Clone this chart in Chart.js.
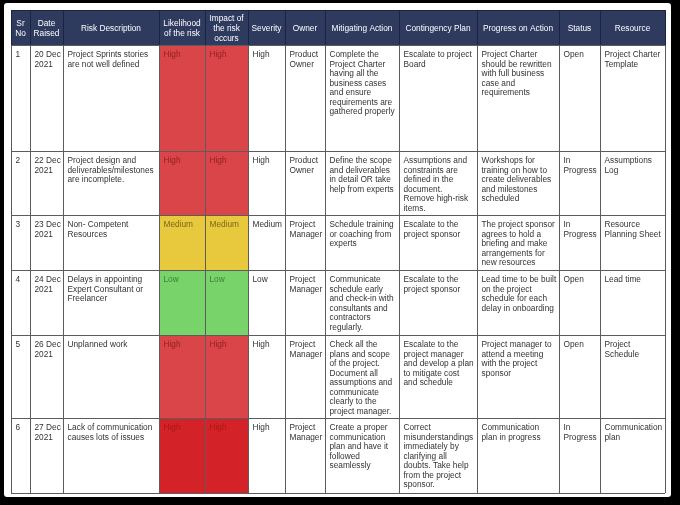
<!DOCTYPE html>
<html>
<head>
<meta charset="utf-8">
<script src="https://cdn.jsdelivr.net/npm/chart.js@4.4.0/dist/chart.umd.min.js"></script>
<style>
  html, body { margin:0; padding:0; background:#000; width:680px; height:505px; overflow:hidden; }
  #page { position:absolute; left:4px; top:3px; width:667px; height:494px; background:#fff; border-radius:3px; }
  #c { position:absolute; left:0; top:0; }
</style>
</head>
<body>
<div id="page"></div>
<canvas id="c" width="680" height="505"></canvas>
<script>
// ---------- DATA ----------
const headers = ["Sr\nNo", "Date\nRaised", "Risk Description", "Likelihood\nof the risk", "Impact of\nthe risk\noccurs", "Severity", "Owner", "Mitigating Action", "Contingency Plan", "Progress on Action", "Status", "Resource"];
const srNo = ["1", "2", "3", "4", "5", "6"];
const dateRaised = ["20 Dec\n2021", "22 Dec\n2021", "23 Dec\n2021", "24 Dec\n2021", "26 Dec\n2021", "27 Dec\n2021"];
const riskDescription = [
  "Project Sprints stories\nare not well defined",
  "Project design and\ndeliverables/milestones\nare incomplete.",
  "Non- Competent\nResources",
  "Delays in appointing\nExpert Consultant or\nFreelancer",
  "Unplanned work",
  "Lack of communication\ncauses lots of issues"
];
const likelihood = ["High", "High", "Medium", "Low", "High", "High"];
const impact = ["High", "High", "Medium", "Low", "High", "High"];
const severity = ["High", "High", "Medium", "Low", "High", "High"];
const owner = ["Product\nOwner", "Product\nOwner", "Project\nManager", "Project\nManager", "Project\nManager", "Project\nManager"];
const mitigatingAction = [
  "Complete the\nProject Charter\nhaving all the\nbusiness cases\nand ensure\nrequirements are\ngathered properly",
  "Define the scope\nand deliverables\nin detail OR take\nhelp from experts",
  "Schedule training\nor coaching from\nexperts",
  "Communicate\nschedule early\nand check-in with\nconsultants and\ncontractors\nregularly.",
  "Check all the\nplans and scope\nof the project.\nDocument all\nassumptions and\ncommunicate\nclearly to the\nproject manager.",
  "Create a proper\ncommunication\nplan and have it\nfollowed\nseamlessly"
];
const contingencyPlan = [
  "Escalate to project\nBoard",
  "Assumptions and\nconstraints are\ndefined in the\ndocument.\nRemove high-risk\nitems.",
  "Escalate to the\nproject sponsor",
  "Escalate to the\nproject sponsor",
  "Escalate to the\nproject manager\nand develop a plan\nto mitigate cost\nand schedule",
  "Correct\nmisunderstandings\nimmediately by\nclarifying all\ndoubts. Take help\nfrom the project\nsponsor."
];
const progressOnAction = [
  "Project Charter\nshould be rewritten\nwith full business\ncase and\nrequirements",
  "Workshops for\ntraining on how to\ncreate deliverables\nand milestones\nscheduled",
  "The project sponsor\nagrees to hold a\nbriefing and make\narrangements for\nnew resources",
  "Lead time to be built\non the project\nschedule for each\ndelay in onboarding",
  "Project manager to\nattend a meeting\nwith the project\nsponsor",
  "Communication\nplan in progress"
];
const status = ["Open", "In\nProgress", "In\nProgress", "Open", "Open", "In\nProgress"];
const resource = ["Project Charter\nTemplate", "Assumptions\nLog", "Resource\nPlanning Sheet", "Lead time", "Project\nSchedule", "Communication\nplan"];

const columns = [srNo, dateRaised, riskDescription, likelihood, impact, severity, owner, mitigatingAction, contingencyPlan, progressOnAction, status, resource];
const ratedColumns = [3, 4];

// ---------- LAYOUT / STYLE ----------
const colEdges = [0, 19, 52, 148, 194, 237, 274, 314, 388, 466, 548, 589, 654];
const rowEdges = [0, 35, 141, 205, 260, 325, 408, 483];
const rowFill = ["#d94548", "#d94548", "#e8c83d", "#79d36b", "#d94548", "#d42328"];
const levelText = { High: "rgba(120,20,20,0.75)", Medium: "rgba(105,85,20,0.85)", Low: "rgba(40,110,35,0.8)" };
const rowTextDark = ["", "", "", "", "", "rgba(165,20,20,0.9)"];
const headerFill = "#2e3a5e";
const FONT = '8.3px "Liberation Sans", Arial, sans-serif';
const LINE = 9.5;

const tablePlugin = {
  id: 'riskTable',
  afterDatasetsDraw(chart) {
    const { ctx, scales: { x, y } } = chart;
    const X = v => x.getPixelForValue(v);
    const Y = v => y.getPixelForValue(v);
    const L = colEdges[colEdges.length - 1];
    const B = rowEdges[rowEdges.length - 1];
    ctx.save();
    ctx.fillStyle = headerFill;
    ctx.fillRect(X(0), Y(0), X(L) - X(0), Y(rowEdges[1]) - Y(0));
    for (let r = 0; r < srNo.length; r++) {
      for (const c of ratedColumns) {
        ctx.fillStyle = rowFill[r];
        ctx.fillRect(X(colEdges[c]), Y(rowEdges[r + 1]), X(colEdges[c + 1]) - X(colEdges[c]), Y(rowEdges[r + 2]) - Y(rowEdges[r + 1]));
      }
    }
    const crisp = v => Math.round(v) + 0.5;
    ctx.lineWidth = 1;
    ctx.strokeStyle = "#5c5c5c";
    ctx.beginPath();
    for (let i = 1; i < rowEdges.length; i++) {
      const yy = crisp(Y(rowEdges[i]));
      ctx.moveTo(X(0), yy); ctx.lineTo(X(L), yy);
    }
    for (const e of colEdges) {
      const xx = crisp(X(e));
      ctx.moveTo(xx, Y(rowEdges[1])); ctx.lineTo(xx, Y(B));
    }
    ctx.stroke();
    ctx.strokeStyle = "#1a233f";
    ctx.beginPath();
    for (const e of colEdges) {
      const xx = crisp(X(e));
      ctx.moveTo(xx, Y(0)); ctx.lineTo(xx, Y(rowEdges[1]));
    }
    ctx.moveTo(X(0), crisp(Y(0))); ctx.lineTo(X(L), crisp(Y(0)));
    ctx.stroke();
    ctx.font = FONT;
    ctx.fillStyle = "#ffffff";
    ctx.textAlign = "center";
    ctx.textBaseline = "middle";
    headers.forEach((h, c) => {
      const lines = h.split("\n");
      const cx = (X(colEdges[c]) + X(colEdges[c + 1])) / 2;
      const cy = (Y(rowEdges[0]) + Y(rowEdges[1])) / 2 + 1;
      lines.forEach((ln, i) => {
        ctx.fillText(ln, cx, cy + (i - (lines.length - 1) / 2) * 9.8);
      });
    });
    ctx.textAlign = "left";
    columns.forEach((col, c) => {
      col.forEach((txt, r) => {
        let color = "#333333";
        if (ratedColumns.includes(c)) color = rowTextDark[r] || levelText[txt];
        ctx.fillStyle = color;
        const lx = X(colEdges[c]) + 4.5;
        const ty = Y(rowEdges[r + 1]) + 10;
        txt.split("\n").forEach((ln, i) => ctx.fillText(ln, lx, ty + i * LINE));
      });
    });
    ctx.restore();
  }
};

new Chart(document.getElementById('c'), {
  type: 'scatter',
  data: { datasets: [{ data: [], pointRadius: 0 }] },
  options: {
    responsive: false,
    animation: false,
    events: [],
    layout: { padding: { left: 11, right: 15, top: 10, bottom: 12 } },
    plugins: { legend: { display: false }, tooltip: { enabled: false }, title: { display: false } },
    scales: {
      x: { type: 'linear', display: false, min: 0, max: colEdges[colEdges.length - 1] },
      y: { type: 'linear', display: false, min: 0, max: rowEdges[rowEdges.length - 1], reverse: true }
    }
  },
  plugins: [tablePlugin]
});
</script>
</body>
</html>
